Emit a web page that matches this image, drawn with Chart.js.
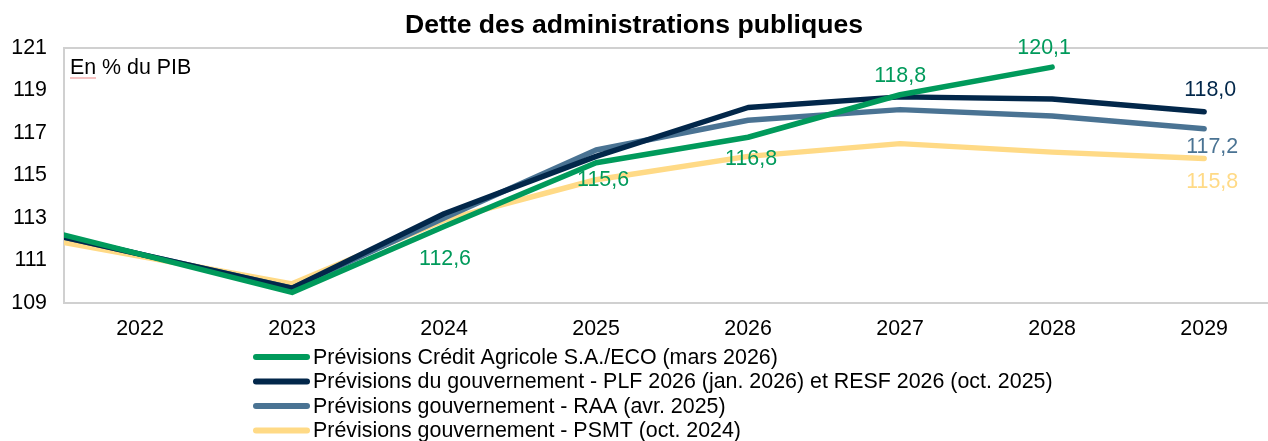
<!DOCTYPE html>
<html>
<head>
<meta charset="utf-8">
<script src="https://cdn.jsdelivr.net/npm/chart.js@4.4.1/dist/chart.umd.min.js"></script>
<style>
html,body{margin:0;padding:0;background:#fff;overflow:hidden;}
#wrap{width:1268px;height:441px;position:relative;}
</style>
</head>
<body>
<div id="wrap"><canvas id="c" width="1268" height="441"></canvas></div>
<script>
// ---- Data ----
const years = [2021, 2022, 2023, 2024, 2025, 2026, 2027, 2028, 2029];
const xTickYears = [2022, 2023, 2024, 2025, 2026, 2027, 2028, 2029];
const seriesNames = [
  "Prévisions Crédit Agricole S.A./ECO (mars 2026)",
  "Prévisions du gouvernement - PLF 2026 (jan. 2026) et RESF 2026 (oct. 2025)",
  "Prévisions gouvernement - RAA (avr. 2025)",
  "Prévisions gouvernement - PSMT (oct. 2024)"
];
const creditAgricole = [113.1, 111.3, 109.5, 112.6, 115.6, 116.8, 118.8, 120.1, null];
const plf2026 = [112.9, 111.3, 109.7, 113.2, 115.9, 118.2, 118.7, 118.6, 118.0];
const raa2025 = [112.9, 111.3, 109.7, 113.0, 116.2, 117.6, 118.1, 117.8, 117.2];
const psmt2024 = [112.5, 111.2, 109.9, 112.9, 114.8, 115.9, 116.5, 116.1, 115.8];
const yTicks = [109, 111, 113, 115, 117, 119, 121];

// ---- Styling ----
const FONT = '"Liberation Sans", Arial, sans-serif';
const colors = ['#009a5b', '#02274a', '#4a7393', '#ffda86'];
const labelSpecs = [
  [{i:3,dx:1,dy:33},{i:4,dx:7,dy:17},{i:5,dx:3,dy:22},{i:6,dx:0,dy:-19},{i:7,dx:-8,dy:-19}],
  [{i:8,dx:6,dy:-22}],
  [{i:8,dx:8,dy:18}],
  [{i:8,dx:8,dy:24}]
];

const allSeries = [creditAgricole, plf2026, raa2025, psmt2024];
const datasets = allSeries.map((arr, k) => ({
  label: seriesNames[k],
  data: years.map((y, i) => ({x: y, y: arr[i]})),
  borderColor: colors[k],
  backgroundColor: colors[k],
  borderWidth: 5.5,
  borderCapStyle: 'round',
  borderJoinStyle: 'round',
  pointRadius: 0,
  pointHoverRadius: 0,
  tension: 0,
  spanGaps: false
}));

const overlay = {
  id: 'overlay',
  afterDatasetsDraw(chart) {
    const ctx = chart.ctx;
    ctx.save();
    ctx.font = '21.4px ' + FONT;
    ctx.textAlign = 'center';
    ctx.textBaseline = 'middle';
    labelSpecs.forEach((specs, k) => {
      const meta = chart.getDatasetMeta(k);
      specs.forEach(s => {
        const pt = meta.data[s.i];
        const v = allSeries[k][s.i];
        if (!pt || v == null) return;
        ctx.fillStyle = colors[k];
        ctx.fillText(v.toFixed(1).replace('.', ','), pt.x + s.dx, pt.y + s.dy);
      });
    });
    ctx.restore();
  },
  afterDraw(chart) {
    const ctx = chart.ctx;
    ctx.save();
    // title
    ctx.fillStyle = '#000';
    ctx.font = 'bold 26.6px ' + FONT;
    ctx.textAlign = 'center';
    ctx.textBaseline = 'middle';
    ctx.fillText('Dette des administrations publiques', 634, 26);
    // unit note
    ctx.font = '21.4px ' + FONT;
    ctx.textAlign = 'left';
    ctx.fillText('En % du PIB', 70, 68);
    // spell-check underline under "En"
    ctx.strokeStyle = 'rgba(235,120,120,0.9)';
    ctx.lineWidth = 1;
    ctx.beginPath();
    ctx.moveTo(70, 78);
    ctx.lineTo(96, 78);
    ctx.stroke();
    // legend
    const rows = [357, 381.5, 406, 430.5];
    chart.data.datasets.forEach((ds, k) => {
      const y = rows[k];
      ctx.strokeStyle = ds.borderColor;
      ctx.lineWidth = 6;
      ctx.lineCap = 'round';
      ctx.beginPath();
      ctx.moveTo(256, y);
      ctx.lineTo(307, y);
      ctx.stroke();
      ctx.fillStyle = '#000';
      ctx.font = '21.4px ' + FONT;
      ctx.textAlign = 'left';
      ctx.textBaseline = 'middle';
      ctx.fillText(ds.label, 313, y + 1);
    });
    ctx.restore();
  }
};

const GRID = '#d0d0d0';
new Chart(document.getElementById('c'), {
  type: 'line',
  data: { datasets },
  options: {
    responsive: false,
    animation: false,
    events: [],
    layout: { padding: { top: 48, left: 0, right: 0, bottom: 0 } },
    plugins: { legend: { display: false }, title: { display: false }, tooltip: { enabled: false } },
    scales: {
      x: {
        type: 'linear',
        min: 2021.5,
        max: 2029.42,
        afterBuildTicks: s => { s.ticks = xTickYears.map(v => ({ value: v })); },
        afterFit: s => { s.height = 138; },
        grid: { display: false, drawTicks: false },
        border: { display: true, color: GRID, width: 2 },
        ticks: {
          autoSkip: false,
          maxRotation: 0,
          padding: 13,
          color: '#000',
          font: { family: FONT, size: 21.4 },
          callback: v => String(v)
        }
      },
      y: {
        min: 109,
        max: 121,
        afterBuildTicks: s => { s.ticks = yTicks.map(v => ({ value: v })); },
        afterFit: s => { s.width = 64; },
        grid: {
          drawTicks: false,
          color: c => (c.tick && c.tick.value === 121) ? GRID : 'rgba(0,0,0,0)',
          lineWidth: 2
        },
        border: { display: true, color: GRID, width: 2 },
        ticks: {
          padding: 17,
          color: '#000',
          font: { family: FONT, size: 21.4 },
          callback: v => String(v)
        }
      }
    }
  },
  plugins: [overlay]
});
</script>
</body>
</html>
